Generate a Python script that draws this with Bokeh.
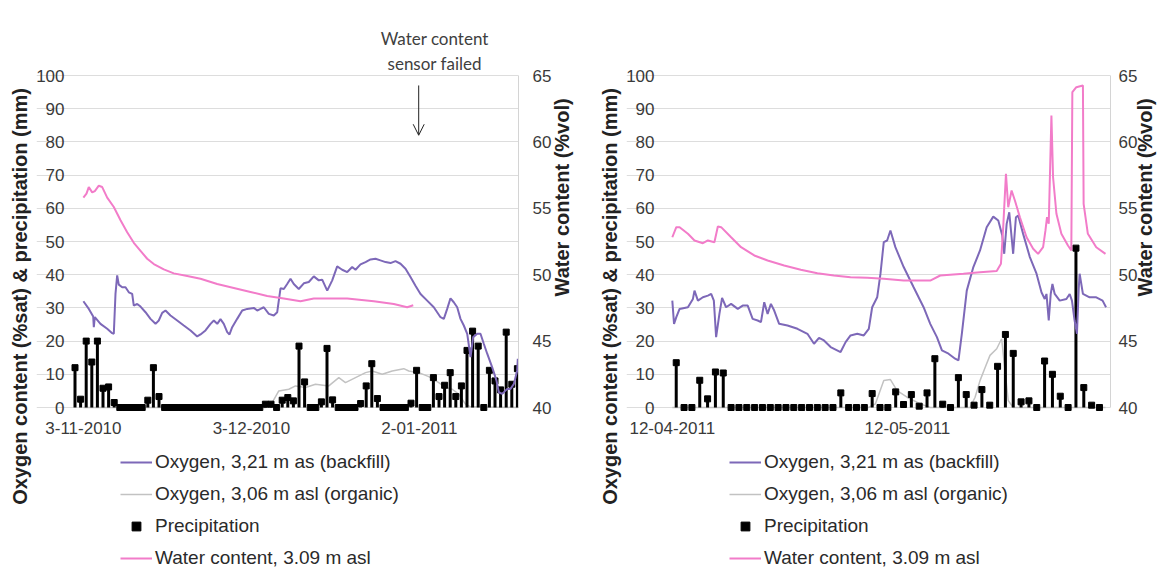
# Oxygen, precipitation and water content for two monitoring periods
import math
import pandas as pd
from bokeh.plotting import figure
from bokeh.layouts import row
from bokeh.models import (Range1d, LinearAxis, FixedTicker, CustomJSTickFormatter,
                          Legend, LegendItem, Label, Arrow, OpenHead, ColumnDataSource)
from bokeh.embed import file_html
from bokeh.resources import INLINE

# Series names (legend order).
series_names = ["Oxygen, 3,21 m as (backfill)", "Oxygen, 3,06 m asl (organic)",
                "Precipitation", "Water content, 3.09 m asl"]
left_title = "Oxygen content (%sat) & precipitation (mm)"
right_title = "Water content (%vol)"
left_ticks = [0, 10, 20, 30, 40, 50, 60, 70, 80, 90, 100]
water_ticks = [40, 45, 50, 55, 60, 65]

# ---------- left panel: november 2010 - january 2011 ----------
p1_start = "2010-11-03"
p1_ticks = ["2010-11-03", "2010-12-03", "2011-01-02"]
p1_rain_first_day = "2010-11-01"
p1_rain = [12, 2.5, 20, 13.7, 20, 5.8, 6.2, 1.5, 0, 0, 0, 0, 0, 2.2, 12, 3.3,
           0, 0, 0, 0, 0, 0, 0, 0, 0, 0, 0, 0, 0, 0, 0, 0, 0, 0,
           1, 1, 0, 2.2, 3, 2, 18.5, 7.7, 0, 0, 1.7, 17.8, 2.3, 0, 0, 0, 0,
           1.2, 6.5, 13.2, 2.7, 0, 0, 0, 0, 0, 1.3, 11.2, 0, 0,
           9, 3.3, 6.7, 10.5, 3.3, 6.5, 17.2, 23, 18.5, 0, 11.2, 8, 5.3, 22.7, 7, 11.7, 6]
# days after p1_start
p1_backfill_days = [0, 0.97, 1.75, 1.86, 2.04, 3.05, 4.25, 5.14, 5.43, 5.73,
                    6.03, 6.32, 6.93, 7.52, 8.11, 8.71, 9.0, 9.61, 10.2, 11.09,
                    11.98, 12.88, 13.46, 14.07, 14.66, 15.55, 16.75, 17.93, 19.13, 20.32,
                    20.91, 21.8, 22.7, 23.29, 23.9, 24.48, 25.07, 25.68, 26.09, 26.57,
                    27.46, 28.36, 29.25, 30.43, 31.04, 31.63, 32.21, 33.11, 34.0, 34.61,
                    34.89, 35.2, 35.79, 36.39, 36.98, 37.57, 38.46, 39.36, 40.25, 41.14,
                    42.04, 42.64, 43.54, 44.43, 45.32, 46.21, 47.11, 48.0, 48.59, 49.48,
                    50.38, 51.27, 52.16, 53.05, 53.95, 54.84, 55.73, 56.63, 57.52, 58.41,
                    59.3, 60.2, 61.39, 62.57, 63.77, 64.36, 64.96, 65.55, 66.14, 66.75,
                    67.34, 67.93, 68.54, 69.13, 69.6, 70.32, 70.91, 71.5, 72.11, 73.0,
                    73.77, 74.18, 74.79, 75.68, 76.27, 76.86, 77.46, 77.57]
p1_backfill = [32.0, 29.7, 27.4, 24.2, 27.2, 25.2, 23.7, 22.4, 22.2, 34.2,
               39.8, 37.0, 36.2, 36.2, 34.7, 34.2, 30.7, 31.2, 30.4, 28.7,
               26.7, 25.2, 26.2, 28.5, 29.2, 27.7, 26.2, 24.7, 23.2, 21.4,
               22.0, 23.2, 25.2, 26.2, 25.2, 26.6, 25.2, 22.7, 22.0, 24.2,
               26.7, 29.2, 29.7, 30.0, 29.2, 29.7, 30.2, 28.2, 27.7, 28.7,
               32.2, 35.9, 35.7, 37.2, 38.8, 37.2, 35.7, 37.4, 37.8, 39.5,
               38.3, 38.5, 35.2, 38.3, 42.5, 41.5, 40.8, 42.3, 41.5, 43.1,
               43.8, 44.6, 44.8, 44.3, 43.8, 43.5, 44.1, 43.3, 41.8, 39.3,
               36.7, 34.2, 32.2, 30.2, 27.2, 26.7, 29.7, 32.9, 31.7, 30.2,
               26.7, 24.7, 22.2, 15.2, 21.2, 22.2, 22.2, 19.2, 16.2, 12.1,
               8.1, 4.6, 4.1, 5.6, 5.6, 7.1, 11.1, 14.7]
p1_organic_days = [0, 32.5, 33.71, 34.89, 36.68, 37.88, 39.66, 41.45, 43.82, 45.61,
                   46.8, 48.59, 50.38, 51.57, 53.36, 55.14, 57.21, 58.11, 59.89, 61.68,
                   63.46, 64.66, 65.86, 67.04, 68.23, 69.13, 77.57]
p1_organic = [0, 0, 1.5, 5.0, 5.5, 6.5, 6.0, 7.0, 6.5, 9.0,
              7.5, 9.0, 10.5, 11.0, 10.0, 11.0, 11.7, 11.0, 10.5, 9.3,
              7.5, 6.0, 5.5, 4.0, 1.0, 0.2, 0]
p1_water_days = [0, 0.55, 0.96, 1.57, 2.04, 2.75, 3.36, 4.25, 5.43, 6.63, 7.82,
                 9.0, 10.2, 11.39, 12.57, 14.36, 16.14, 18.54, 20.91, 23.89, 26.86,
                 29.84, 32.82, 35.79, 38.77, 41.14, 47.11, 51.86, 55.43, 57.82, 58.9]
p1_water = [55.8, 56.1, 56.6, 56.2, 56.3, 56.7, 56.6, 55.8, 55.1, 54.1, 53.2,
            52.4, 51.8, 51.2, 50.8, 50.4, 50.1, 49.9, 49.7, 49.3, 49.0,
            48.7, 48.4, 48.2, 48.0, 48.2, 48.2, 48.0, 47.8, 47.55, 47.7]
sensor_failed_date = "2011-01-01 21:00"
sensor_note = ["Water content", "sensor failed"]

# ---------- right panel: april - june 2011 ----------
p2_start = "2011-04-12"
p2_ticks = ["2011-04-12", "2011-05-12"]
p2_rain_first_day = "2011-04-12"
p2_rain = [13.5, 0, 0, 8.2, 2.6, 10.7, 10.4, 0, 0, 0, 0, 0, 0, 0, 0, 0, 0, 0, 0, 0, 0,
           4.4, 0, 0, 0, 4.2, 0, 0, 4.7, 0.9, 3.9, 0.4, 4.4, 14.7, 1, 0, 9, 3.9, 0.7,
           5.4, 0.7, 12.4, 22, 16.3, 1.7, 2, 0, 14, 10, 3.4, 0, 48, 6, 0.7, 0]
p2_backfill_days = [0, 0.22, 0.51, 0.93, 1.99, 2.63, 2.83, 3.27, 3.9, 4.54,
                    4.96, 5.3, 5.59, 6.01, 6.35, 6.86, 7.5, 8.35, 8.98, 9.62,
                    10.25, 10.89, 11.31, 11.73, 12.16, 12.58, 13.0, 13.63, 14.7, 15.97,
                    17.24, 18.08, 18.72, 19.35, 20.2, 21.47, 22.11, 22.74, 23.6, 24.43,
                    25.07, 25.5, 26.14, 26.56, 26.98, 27.41, 27.83, 28.46, 29.52, 30.79,
                    32.06, 32.91, 33.76, 34.4, 35.24, 36.09, 36.51, 36.94, 37.57, 38.41,
                    39.26, 40.11, 40.95, 41.59, 42.1, 42.35, 42.66, 42.99, 43.29, 43.49,
                    43.84, 44.13, 44.76, 45.62, 46.47, 47.1, 47.52, 47.74, 48.03, 48.28,
                    48.5, 48.79, 49.43, 50.28, 50.7, 50.99, 51.33, 51.63, 51.84, 51.97,
                    52.39, 53.24, 54.09, 54.9, 55.34]
p2_backfill = [32.2, 25.2, 27.2, 29.7, 30.2, 32.7, 35.2, 32.2, 33.2, 33.7,
               34.2, 32.2, 21.2, 28.2, 33.0, 30.2, 31.2, 29.7, 30.7, 30.7,
               26.7, 26.2, 25.7, 31.7, 28.2, 31.2, 29.2, 25.2, 24.7, 23.7,
               22.2, 19.2, 21.0, 20.2, 18.2, 16.7, 19.7, 21.7, 22.2, 21.7,
               23.7, 30.2, 33.2, 40.3, 49.8, 50.3, 53.3, 48.3, 42.3, 36.2,
               30.2, 25.2, 21.2, 17.2, 16.2, 14.7, 14.2, 22.2, 35.2, 42.3,
               47.3, 54.3, 57.5, 56.3, 51.8, 46.3, 55.3, 58.8, 51.3, 46.3,
               57.3, 57.8, 52.3, 45.3, 40.3, 34.7, 32.7, 34.2, 26.2, 34.2,
               37.2, 34.2, 32.2, 32.7, 34.2, 32.2, 26.2, 22.2, 35.2, 40.3,
               34.2, 33.2, 33.2, 32.2, 30.2]
p2_organic_days = [0, 25.03, 25.92, 26.98, 27.83, 28.68, 29.95, 31.64, 32.91, 37.99,
                   38.63, 39.26, 39.9, 40.53, 41.39, 42.02, 42.31, 42.86, 43.49, 55.27]
p2_organic = [0, 0, 1.1, 8.1, 8.4, 5.1, 3.1, 1.1, 0, 0,
              3.1, 8.1, 12.0, 15.7, 17.7, 20.7, 14.2, 2.1, 0, 0]
p2_water_days = [0, 0.51, 0.93, 1.99, 2.83, 3.9, 4.54, 5.37, 5.81, 6.23,
                 7.5, 8.77, 10.46, 12.16, 14.27, 16.39, 18.51, 20.62, 22.74, 24.87,
                 26.98, 29.52, 32.91, 34.18, 37.14, 39.26, 41.39, 41.93, 42.22, 42.57,
                 42.86, 43.29, 43.71, 44.35, 45.2, 46.04, 46.67, 47.31, 47.61, 47.81,
                 48.03, 48.37, 48.58, 49.01, 49.64, 50.48, 50.91, 51.04, 51.55, 52.39,
                 52.48, 53.02, 54.09, 55.27]
p2_water = [52.82, 53.58, 53.58, 53.08, 52.58, 52.37, 52.58, 52.45, 53.63, 53.58,
            52.82, 52.07, 51.45, 51.07, 50.69, 50.37, 50.11, 49.94, 49.81, 49.77,
            49.69, 49.56, 49.56, 49.94, 50.07, 50.19, 50.27, 50.82, 53.58, 57.6,
            55.08, 56.34, 55.59, 54.33, 52.82, 51.95, 51.57, 52.07, 53.33, 54.33,
            53.83, 61.99, 57.34, 54.59, 53.08, 52.2, 51.82, 63.74, 64.12, 64.25,
            55.34, 53.08, 52.07, 51.57]

# Styling.
FONT = "Liberation Sans"
PURPLE = "#7D68B8"
GRAY = "#C2C2C2"
PINK = "#F27CC9"
TEXT = "#3A3A3A"

# Vertical layout: the frame covers the note above and the legend below the
# data area, so the y ranges are widened so that 0..100 still sits at rows 75..407.
CANVAS_H = 574
TOP, BOTTOM = 20, 2
DATA_TOP, DATA_BOTTOM = 75, 407
TITLE_CENTER = 292           # row of the centre of the left axis title
DATE_LABEL_TOP = 421         # row of the top of the date labels
LABEL_W = 28                 # width of the "100" tick label
px_left = (DATA_BOTTOM - DATA_TOP) / 100.0
px_water = (DATA_BOTTOM - DATA_TOP) / 25.0
below_px = CANVAS_H - BOTTOM - DATA_BOTTOM
above_px = DATA_TOP - TOP
y_lo, y_hi = -below_px / px_left, 100 + above_px / px_left
w_lo, w_hi = 40 - below_px / px_water, 65 + above_px / px_water
title_mid = (DATA_BOTTOM - TITLE_CENTER) / px_left
note_y = [(DATA_BOTTOM - 38) / px_left, (DATA_BOTTOM - 63) / px_left]

# Horizontal layout per panel (pixels inside each canvas).
p1_geom = dict(width=596, tick0_px=82.9, px_per_day=5.6, frame_left=36, frame_right=518,
               grid_left=76, right_gap=14, title_gap=8, legend_x=84)
p2_geom = dict(width=574, tick0_px=75.0, px_per_day=7.87, frame_left=29, frame_right=515,
               grid_left=71, right_gap=8, title_gap=5, legend_x=103)

date_label_js = """
const d = new Date(tick);
const mm = String(d.getUTCMonth() + 1).padStart(2, "0");
return d.getUTCDate() + "-" + mm + "-" + d.getUTCFullYear();
"""


def to_dates(start, days):
    return pd.Timestamp(start) + pd.to_timedelta(days, unit="D")


def to_ms(stamp):
    return pd.Timestamp(stamp).value / 1e6


def px_to_time(tick0, g, px):
    return pd.Timestamp(tick0) + pd.Timedelta(days=(px - g["tick0_px"]) / g["px_per_day"])


def style_axis(ax, gap):
    ax.axis_line_color = None
    ax.major_tick_line_color = None
    ax.minor_tick_line_color = None
    ax.major_tick_out = 0
    ax.major_tick_in = 0
    ax.minor_tick_out = 0
    ax.major_label_text_font = FONT
    ax.major_label_text_font_size = "17px"
    ax.major_label_text_color = TEXT
    ax.major_label_standoff = gap


def make_panel(start, ticks, rain_first_day, rain, backfill_days, backfill,
               organic_days, organic, water_days, water, g):
    x_start = px_to_time(ticks[0], g, g["frame_left"])
    x_end = px_to_time(ticks[0], g, g["frame_right"])
    data_left = px_to_time(ticks[0], g, g["grid_left"])
    p = figure(width=g["width"], height=CANVAS_H, x_axis_type="datetime",
               x_range=Range1d(x_start, x_end),
               y_range=Range1d(y_lo, y_hi), output_backend="svg", toolbar_location=None,
               min_border_left=g["frame_left"], min_border_right=g["width"] - g["frame_right"],
               min_border_top=TOP, min_border_bottom=BOTTOM)
    p.outline_line_color = None
    p.xgrid.visible = False
    p.ygrid.grid_line_color = "#dddddd"
    p.ygrid.ticker = FixedTicker(ticks=left_ticks)
    p.ygrid.bounds = (to_ms(data_left), to_ms(x_end))

    # left axis: tick labels pulled to the right of the frame edge so that the
    # first date label fits; bounds set where the rotated title is centred
    yax = p.left[0]
    yax.ticker = FixedTicker(ticks=left_ticks)
    style_axis(yax, 10)
    try:
        yax.major_label_standoff = -LABEL_W
    except ValueError:
        pass
    yax.bounds = (2 * title_mid - 100, 100)
    yax.axis_label = left_title
    yax.axis_label_text_font = FONT
    yax.axis_label_text_font_size = "20px"
    yax.axis_label_text_font_style = "bold"
    yax.axis_label_text_color = "#222222"
    yax.axis_label_standoff = 2

    # date axis: its labels are pulled up under the zero line
    xax = p.below[0]
    xax.ticker = FixedTicker(ticks=[to_ms(t) for t in ticks])
    xax.formatter = CustomJSTickFormatter(code=date_label_js)
    style_axis(xax, 3)
    try:
        xax.major_label_standoff = DATE_LABEL_TOP - (CANVAS_H - BOTTOM)
    except ValueError:
        pass
    xax.bounds = (to_ms(data_left), to_ms(x_end))

    # water content axis
    p.extra_y_ranges = {"water": Range1d(w_lo, w_hi)}
    rax = LinearAxis(y_range_name="water", axis_label=right_title,
                     ticker=FixedTicker(ticks=water_ticks), bounds=(40, 65))
    style_axis(rax, g["right_gap"])
    rax.axis_line_color = "#d4d4d4"
    rax.axis_label_text_font = FONT
    rax.axis_label_text_font_size = "20px"
    rax.axis_label_text_font_style = "bold"
    rax.axis_label_text_color = "#222222"
    rax.axis_label_standoff = g["title_gap"]
    rax.axis_label_orientation = math.pi / 2
    p.add_layout(rax, "right")

    # rainfall totals drawn at the middle of each day
    rain_x = pd.date_range(rain_first_day, periods=len(rain), freq="D") + pd.Timedelta(hours=12)
    rain_src = ColumnDataSource(dict(x=rain_x, rain=rain))

    org = p.line(to_dates(start, organic_days), organic, line_color=GRAY, line_width=1.5)
    p.segment(x0="x", y0=0, x1="x", y1="rain", source=rain_src, line_color="black", line_width=3)
    pts = p.scatter("x", "rain", source=rain_src, marker="square", size=6,
                    fill_color="black", line_color="black")
    bf = p.line(to_dates(start, backfill_days), backfill, line_color=PURPLE, line_width=2)
    wc = p.line(to_dates(start, water_days), water, line_color=PINK, line_width=2,
                y_range_name="water")

    legend = Legend(items=[LegendItem(label=series_names[0], renderers=[bf]),
                           LegendItem(label=series_names[1], renderers=[org]),
                           LegendItem(label=series_names[2], renderers=[pts]),
                           LegendItem(label=series_names[3], renderers=[wc])],
                    location=(g["legend_x"], 3), orientation="vertical",
                    glyph_width=32, glyph_height=22, label_height=22, spacing=10,
                    label_standoff=3, padding=0, margin=0,
                    label_text_font=FONT, label_text_font_size="19px",
                    label_text_color="#2a2a2a",
                    border_line_color=None, background_fill_alpha=0)
    p.add_layout(legend)
    return p


p1 = make_panel(p1_start, p1_ticks, p1_rain_first_day, p1_rain, p1_backfill_days, p1_backfill,
                p1_organic_days, p1_organic, p1_water_days, p1_water, p1_geom)

# note and arrow where the water content sensor failed
fail_x = to_ms(sensor_failed_date)
for txt, ty in zip(sensor_note, note_y):
    p1.add_layout(Label(x=fail_x, y=ty, x_offset=16, text=txt, text_align="center",
                        text_baseline="middle", text_font="Lato", text_font_size="17px",
                        text_color="#404040"))
p1.add_layout(Arrow(end=OpenHead(size=11, line_width=1, line_color="#222222"),
                    x_start=fail_x, y_start=97, x_end=fail_x, y_end=82,
                    line_width=1, line_color="#222222"))

p2 = make_panel(p2_start, p2_ticks, p2_rain_first_day, p2_rain, p2_backfill_days, p2_backfill,
                p2_organic_days, p2_organic, p2_water_days, p2_water, p2_geom)

layout = row(p1, p2)
open("out.html", "w").write(file_html(layout, INLINE))
